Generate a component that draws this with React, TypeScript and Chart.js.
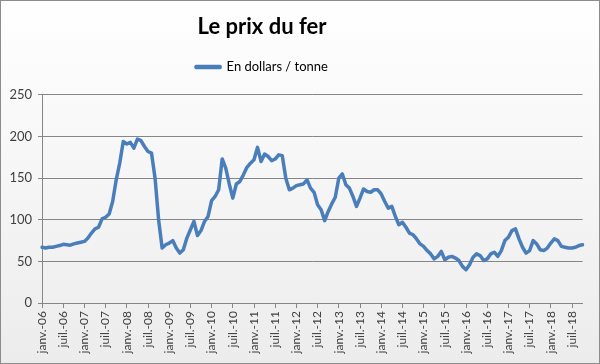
import { useEffect, useRef } from 'react';
import { Chart, registerables, layouts } from 'chart.js';

Chart.register(...registerables);

const TITLE = 'Le prix du fer';
const SERIES_LABEL = 'En dollars / tonne';
const MONTHS = ['janv.', 'févr.', 'mars', 'avr.', 'mai', 'juin', 'juil.', 'août', 'sept.', 'oct.', 'nov.', 'déc.'];
const START_YEAR = 2006;
const Y_TICKS = [0, 50, 100, 150, 200, 250];

// Monthly iron ore price, USD / tonne, janv.-06 .. oct.-18
const PRICES = [
  67, 66, 67, 67, 68, 69, 70.5, 70, 69.5, 71, 72, 73,
  74, 78, 84, 89, 91, 101, 103, 107, 122, 148, 168, 194,
  191, 193, 186, 197, 195, 188, 182, 180, 150, 100, 66, 70,
  72, 75, 66, 60, 64, 78, 88, 98, 81, 87, 98, 104,
  123, 128, 136, 173, 162, 143, 126, 143, 146, 154, 163, 168,
  172, 187, 170, 179, 176, 171, 173, 178, 177, 150, 136, 138,
  141, 142, 143, 148, 138, 133, 118, 112, 99, 110, 119, 127,
  150, 155, 142, 138, 128, 116, 126, 137, 134, 133, 136, 136,
  131, 122, 114, 116, 104, 94, 97, 91, 84, 82, 77, 71,
  68, 63, 59, 53, 56, 62, 52, 55, 56, 54, 51, 44,
  40, 46, 55, 59, 57, 51, 53, 59, 61, 56, 63, 75,
  79, 87, 89, 77, 67, 60, 63, 75, 71, 64, 63, 66,
  72, 77, 75, 68, 67, 66, 66, 67, 69, 70,
];

const LABELS = PRICES.map((_, i) => {
  const y = (START_YEAR + Math.floor(i / 12)) % 100;
  return `${MONTHS[i % 12]}-${String(y).padStart(2, '0')}`;
});

const FONT = 'Lato, "Open Sans", sans-serif';
const LINE_COLOR = '#4A7EBB';
const GRID_COLOR = '#868686';

const backgroundPlugin = {
  id: 'bgFrame',
  beforeDraw(chart: any) {
    const { ctx, width, height } = chart;
    ctx.save();
    const g = ctx.createLinearGradient(0, 0, 0, height);
    g.addColorStop(0, '#ffffff');
    g.addColorStop(1, '#ececec');
    ctx.fillStyle = g;
    ctx.fillRect(0, 0, width, height);
    ctx.strokeStyle = '#8c8c8c';
    ctx.lineWidth = 1;
    ctx.strokeRect(0.5, 0.5, width - 1, height - 1);
    ctx.restore();
  },
};

const spacerPlugin = {
  id: 'legendSpacer',
  beforeInit(chart: any) {
    const box: any = {
      position: 'top',
      weight: 0,
      fullSize: true,
      options: {},
      left: 0, top: 0, right: 0, bottom: 0, width: 0, height: 0,
      isHorizontal() { return true; },
      update(maxWidth: number) { this.width = maxWidth; this.height = 11.5; },
      draw() {},
    };
    layouts.addBox(chart, box);
  },
};

export default function App() {
  const ref = useRef<HTMLCanvasElement | null>(null);

  useEffect(() => {
    document.body.style.margin = '0';
    const canvas = ref.current;
    if (!canvas) return;
    const chart = new Chart(canvas, {
      type: 'line',
      data: {
        labels: LABELS,
        datasets: [
          {
            label: SERIES_LABEL,
            data: PRICES,
            borderColor: LINE_COLOR,
            backgroundColor: LINE_COLOR,
            borderWidth: 3.5,
            pointRadius: 0,
            pointHoverRadius: 0,
            tension: 0,
            borderJoinStyle: 'round',
            borderCapStyle: 'round',
            fill: false,
          },
        ],
      },
      options: {
        responsive: false,
        animation: false,
        devicePixelRatio: 1,
        layout: { padding: { top: 14, left: -60, right: 16, bottom: 0 } },
        plugins: {
          title: {
            display: true,
            text: TITLE,
            color: '#000',
            font: { family: FONT, size: 22, weight: 'bold' },
            padding: { top: 0, bottom: 10 },
          },
          legend: {
            display: true,
            position: 'top',
            labels: {
              color: '#000',
              font: { family: FONT, size: 13 },
              boxWidth: 24,
              boxHeight: 1,
              padding: 10,
            },
          },
          tooltip: { enabled: false },
        },
        scales: {
          x: {
            type: 'category',
            offset: false,
            afterFit(scale: any) { scale.height = 61; },
            grid: {
              drawOnChartArea: false,
              drawTicks: true,
              tickLength: 5,
              color: (c: any) => (c.index % 6 === 0 ? GRID_COLOR : 'rgba(0,0,0,0)'),
            },
            border: { display: true, color: GRID_COLOR },
            ticks: {
              autoSkip: false,
              minRotation: 90,
              maxRotation: 90,
              padding: 3,
              color: '#404040',
              font: { family: FONT, size: 12 },
              callback: (_v: any, i: number) => (i % 6 === 0 ? LABELS[i] : ''),
            },
          },
          y: {
            min: Y_TICKS[0],
            max: Y_TICKS[Y_TICKS.length - 1],
            afterFit(scale: any) { scale.width = 102; },
            afterBuildTicks(scale: any) { scale.ticks = Y_TICKS.map((v) => ({ value: v })); },
            grid: { color: GRID_COLOR, tickLength: 4, drawTicks: true },
            border: { display: true, color: GRID_COLOR },
            ticks: {
              padding: 6,
              color: '#404040',
              font: { family: FONT, size: 13 },
            },
          },
        },
      },
      plugins: [backgroundPlugin, spacerPlugin],
    } as any);
    return () => chart.destroy();
  }, []);

  return (
    <div style={{ width: 600, height: 364 }}>
      <canvas ref={ref} width={600} height={364} style={{ display: 'block' }} />
    </div>
  );
}
